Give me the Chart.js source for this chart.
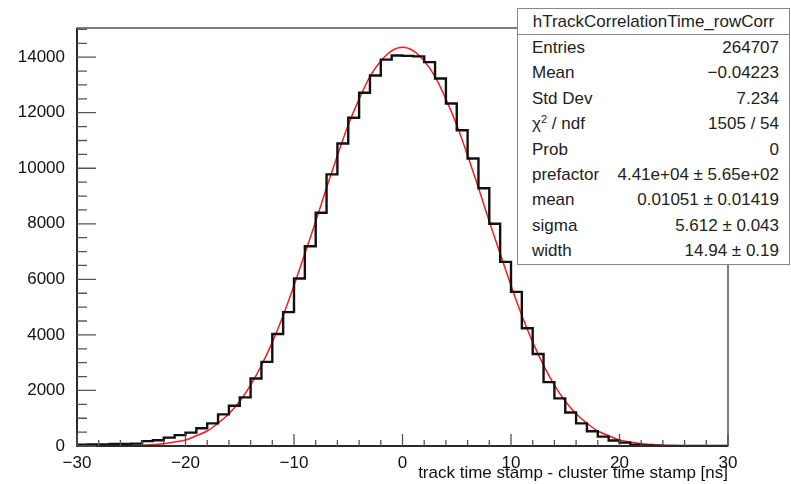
<!DOCTYPE html>
<html lang="en">
<head>
<meta charset="UTF-8">
<title>hTrackCorrelationTime_rowCorr</title>
<script src="https://cdn.jsdelivr.net/npm/chart.js"></script>
<style>
    body { margin: 0; background: #fff; }
    .wrap { position: relative; width: 791px; height: 484px; }
    .stats {
        position: absolute; left: 517px; top: 8px; width: 271px;
        background: #fff; border: 1px solid #888;
        font-family: "Liberation Sans", Arial, sans-serif; font-size: 17px; color: #222;
    }
    .stats .title { height: 25px; line-height: 25px; text-align: center; border-bottom: 1px solid #888; }
    .stats .row { display: flex; justify-content: space-between; height: 25.4px; line-height: 25.4px; padding: 0 10px 0 14px; }
    .stats sup { font-size: 11px; line-height: 0; vertical-align: 6px; }
</style>
</head>
<body>
<div class="wrap">
    <canvas id="hist" width="791" height="484"></canvas>
    <div class="stats" id="stats"></div>
</div>

<script>
    // histogram: 60 bins of 1 ns from -30 to 30
    const binLow = -30;
    const binWidth = 1;
    const counts = [
        50, 55, 60, 70, 75, 85, 175, 205, 300, 390,
        480, 640, 815, 1140, 1450, 1750, 2430, 3030, 4030, 4820,
        6030, 7190, 8400, 9780, 10890, 11820, 12720, 13340, 13910, 14060,
        14045, 14030, 13820, 13230, 12330, 11370, 10350, 9280, 8000, 6630,
        5550, 4240, 3310, 2300, 1715, 1205, 815, 530, 336, 200,
        120, 45, 22, 10, 5, 3, 2, 1, 1, 0
    ];

    // red fit curve
    const fitX = [
        -30, -29, -28, -27, -26, -25, -24, -23, -22, -21, -20, -19, -18, -17, -16, -15,
        -14, -13, -12, -11, -10, -9, -8, -7, -6, -5, -4, -3, -2, -1, 0,
        1, 2, 3, 4, 5, 6, 7, 8, 9, 10, 11, 12, 13, 14, 15,
        16, 17, 18, 19, 20, 21, 22, 23, 24, 25, 26, 27, 28, 29, 30
    ];
    const fitY = [
        0, 0, 0, 5, 10, 15, 25, 50, 80, 145, 215, 370, 540, 820, 1160, 1610,
        2190, 2900, 3740, 4700, 5780, 6930, 8080, 9300, 10460, 11560, 12490, 13300, 13860, 14230, 14360,
        14230, 13860, 13300, 12490, 11560, 10460, 9300, 8080, 6930, 5780, 4700, 3740, 2900, 2190, 1610,
        1160, 820, 540, 370, 215, 145, 80, 50, 25, 15, 10, 5, 0, 0, 0
    ];

    const xTicks = [-30, -20, -10, 0, 10, 20, 30];
    const yTicks = [0, 2000, 4000, 6000, 8000, 10000, 12000, 14000];
    const xMinorStep = 2;
    const yMinorStep = 500;
    const yMax = 15050;

    const statsTitle = 'hTrackCorrelationTime_rowCorr';
    const statsLabels = ['Entries', 'Mean', 'Std Dev', 'χ<sup>2</sup> / ndf', 'Prob', 'prefactor', 'mean', 'sigma', 'width'];
    const statsValues = ['264707', '−0.04223', '7.234', '1505 / 54', '0', '4.41e+04 ± 5.65e+02', '0.01051 ± 0.01419', '5.612 ± 0.043', '14.94 ± 0.19'];

    const FONT = '"Liberation Sans", Arial, sans-serif';

    function fillStats() {
        const box = document.getElementById('stats');
        let html = '<div class="title">' + statsTitle + '</div>';
        statsLabels.forEach((l, i) => {
            html += '<div class="row"><span>' + l + '</span><span>' + statsValues[i] + '</span></div>';
        });
        box.innerHTML = html;
    }

    // ROOT style frame with inward ticks
    const rootFrame = {
        id: 'rootFrame',
        afterDatasetsDraw(chart) {
            const { ctx, chartArea: a, scales: { x, y } } = chart;
            ctx.save();
            ctx.strokeStyle = '#2a2a2a';
            ctx.lineWidth = 1.2;
            ctx.strokeRect(a.left, a.top, a.right - a.left, a.bottom - a.top);
            ctx.lineWidth = 2;
            ctx.beginPath();
            ctx.moveTo(a.left, a.top);
            ctx.lineTo(a.left, a.bottom);
            ctx.lineTo(a.right, a.bottom);
            ctx.stroke();

            ctx.lineWidth = 1.3;
            ctx.strokeStyle = '#555';
            ctx.beginPath();
            for (let v = 0; v <= y.max; v += yMinorStep) {
                const py = y.getPixelForValue(v);
                const len = yTicks.includes(v) ? 19 : 10;
                ctx.moveTo(a.left, py);
                ctx.lineTo(a.left + len, py);
            }
            for (let v = x.min; v <= x.max; v += xMinorStep) {
                const px = x.getPixelForValue(v);
                const len = xTicks.includes(v) ? 12 : 6;
                ctx.moveTo(px, a.bottom);
                ctx.lineTo(px, a.bottom - len);
            }
            ctx.stroke();
            ctx.restore();
        }
    };

    function drawChart() {
        const histPoints = counts.map((c, i) => ({ x: binLow + i * binWidth, y: c }));
        histPoints.push({ x: binLow + counts.length * binWidth, y: counts[counts.length - 1] });
        const fitPoints = fitX.map((v, i) => ({ x: v, y: fitY[i] }));

        new Chart(document.getElementById('hist'), {
            type: 'line',
            data: {
                datasets: [{
                    label: 'histogram',
                    data: histPoints,
                    stepped: 'before',
                    borderColor: '#111',
                    borderWidth: 2.4,
                    pointRadius: 0,
                    fill: false
                }, {
                    label: 'fit',
                    data: fitPoints,
                    borderColor: '#ff1a1a',
                    borderWidth: 1.5,
                    pointRadius: 0,
                    cubicInterpolationMode: 'monotone',
                    fill: false
                }]
            },
            options: {
                responsive: false,
                animation: false,
                layout: { padding: { left: 0, right: 63, top: 28, bottom: 0 } },
                plugins: {
                    legend: { display: false },
                    tooltip: { enabled: false }
                },
                scales: {
                    x: {
                        type: 'linear',
                        min: -30,
                        max: 30,
                        grid: { display: false },
                        border: { display: false },
                        afterBuildTicks: s => { s.ticks = xTicks.map(v => ({ value: v })); },
                        afterFit: s => { s.height = 38; },
                        ticks: {
                            padding: -1,
                            color: '#111',
                            font: { family: FONT, size: 17 },
                            callback: v => v < 0 ? '−' + Math.abs(v) : String(v)
                        },
                        title: {
                            display: true,
                            text: 'track time stamp - cluster time stamp [ns]',
                            align: 'end',
                            color: '#111',
                            font: { family: FONT, size: 17 },
                            padding: { top: 0, bottom: 0 }
                        }
                    },
                    y: {
                        min: 0,
                        max: yMax,
                        grid: { display: false },
                        border: { display: false },
                        afterBuildTicks: s => { s.ticks = yTicks.map(v => ({ value: v })); },
                        afterFit: s => { s.width = 77; },
                        ticks: {
                            padding: 4,
                            color: '#111',
                            font: { family: FONT, size: 17 },
                            callback: v => String(v)
                        }
                    }
                }
            },
            plugins: [rootFrame]
        });
    }

    fillStats();
    drawChart();
</script>
</body>
</html>
